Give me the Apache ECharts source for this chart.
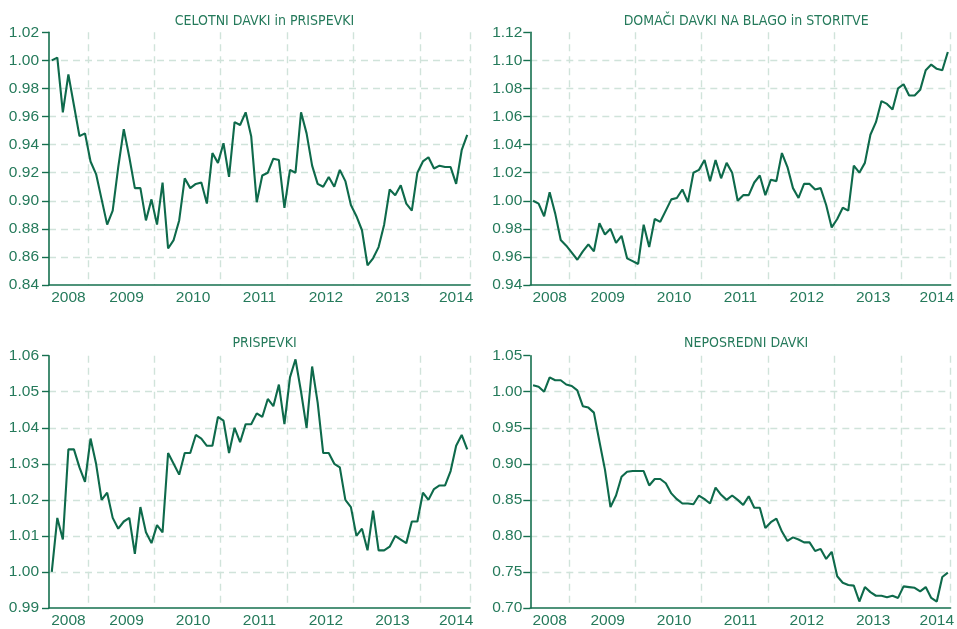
<!DOCTYPE html>
<html><head><meta charset="utf-8">
<script src="https://cdn.jsdelivr.net/npm/echarts@6/dist/echarts.min.js"></script>
<style>html,body{margin:0;padding:0;background:#fff}#c{width:957px;height:629px}</style>
</head><body><div id="c"></div>
<script>
// monthly categories, Jan 2008 .. Apr 2014 (76 months)
const months = [];
for (let y = 2008; y <= 2014; y++) for (let m = 1; m <= 12; m++) if (months.length < 76) months.push(y + '-' + String(m).padStart(2, '0'));
const yearLabels = ['2008', '2009', '2010', '2011', '2012', '2013', '2014'];
const titles = ['CELOTNI DAVKI in PRISPEVKI', 'DOMAČI DAVKI NA BLAGO in STORITVE', 'PRISPEVKI', 'NEPOSREDNI DAVKI'];

const celotni = [1.000,1.002,0.963,0.990,0.968,0.946,0.948,0.928,0.919,0.901,0.883,0.893,0.924,0.951,0.931,0.909,
  0.909,0.886,0.901,0.883,0.913,0.866,0.872,0.886,0.916,0.909,0.912,0.913,0.898,0.934,0.927,0.941,0.917,0.956,
  0.954,0.963,0.946,0.899,0.918,0.920,0.930,0.929,0.895,0.922,0.920,0.963,0.948,0.925,0.912,0.910,0.917,0.910,
  0.922,0.914,0.897,0.889,0.879,0.854,0.859,0.867,0.883,0.908,0.904,0.911,0.898,0.893,0.920,0.928,0.931,0.923,
  0.925,0.924,0.924,0.912,0.936,0.947];
const domaci = [1.000,0.998,0.989,1.006,0.991,0.972,0.968,0.963,0.958,0.964,0.969,0.964,0.984,0.976,0.980,0.970,
  0.975,0.959,0.957,0.955,0.983,0.967,0.987,0.985,0.993,1.001,1.002,1.008,0.999,1.020,1.022,1.029,1.014,1.029,
  1.016,1.027,1.020,1.000,1.004,1.004,1.013,1.018,1.004,1.015,1.014,1.034,1.024,1.009,1.002,1.012,1.012,1.008,
  1.009,0.997,0.981,0.987,0.995,0.993,1.025,1.020,1.027,1.047,1.056,1.071,1.069,1.065,1.080,1.083,1.075,1.075,
  1.079,1.093,1.097,1.094,1.093,1.106];
const prispevki = [1.000,1.015,1.009,1.034,1.034,1.029,1.025,1.037,1.030,1.020,1.022,1.015,1.012,1.014,1.015,1.005,
  1.018,1.011,1.008,1.013,1.011,1.033,1.030,1.027,1.033,1.033,1.038,1.037,1.035,1.035,1.043,1.042,1.033,1.040,
  1.036,1.041,1.041,1.044,1.043,1.048,1.046,1.052,1.041,1.054,1.059,1.050,1.040,1.057,1.047,1.033,1.033,1.030,
  1.029,1.020,1.018,1.010,1.012,1.006,1.017,1.006,1.006,1.007,1.010,1.009,1.008,1.014,1.014,1.022,1.020,1.023,
  1.024,1.024,1.028,1.035,1.038,1.034];
const neposredni = [1.009,1.007,1.000,1.020,1.016,1.016,1.010,1.008,1.002,0.980,0.978,0.971,0.931,0.892,0.840,0.856,
  0.882,0.889,0.890,0.890,0.890,0.870,0.879,0.879,0.873,0.859,0.851,0.845,0.845,0.844,0.856,0.851,0.845,0.867,
  0.857,0.850,0.856,0.850,0.843,0.855,0.839,0.839,0.811,0.819,0.824,0.806,0.793,0.798,0.795,0.791,0.791,0.779,
  0.782,0.768,0.778,0.744,0.735,0.732,0.731,0.709,0.729,0.722,0.717,0.717,0.715,0.717,0.714,0.730,0.729,0.728,
  0.723,0.729,0.714,0.709,0.743,0.749];

const seriesData = [celotni, domaci, prispevki, neposredni];
const yRanges = [[0.84, 1.02, 0.02], [0.94, 1.12, 0.02], [0.99, 1.06, 0.01], [0.70, 1.05, 0.05]];

const LINE = '#0e6a4b', AXIS = '#16704f', TEXT = '#257a5b', GRID = '#d0e3da';
const FONT = "'Liberation Sans', Arial, sans-serif";
const NARROW = "'Liberation Sans Narrow', 'DejaVu Sans Condensed', sans-serif";

const grids = [
  {left: 49, top: 32.3, width: 421, height: 252.7},
  {left: 530.3, top: 32.3, width: 421.7, height: 252.7},
  {left: 49, top: 355.7, width: 421, height: 252.6},
  {left: 530.3, top: 355.7, width: 421.7, height: 252.6}
];
const labelMargins = [10, 8, 10, 8];
// year label category index (edge ones centred on a month, inner ones on a month boundary)
const yearPos = {3: [0, false], 13: [1, true], 25: [2, true], 37: [3, true], 49: [4, true], 61: [5, true], 73: [6, false]};

const option = {
  animation: false,
  backgroundColor: '#fff',
  title: titles.map((t, i) => ({
    text: t,
    left: grids[i].left + grids[i].width / 2,
    top: i < 2 ? 9 : 331,
    textAlign: 'center',
    textStyle: {color: TEXT, fontFamily: NARROW, fontSize: 14, fontWeight: 'normal'}
  })),
  grid: grids.map(g => Object.assign({containLabel: false}, g)),
  xAxis: grids.map((g, i) => ({
    type: 'category', gridIndex: i, data: months, boundaryGap: true,
    axisLine: {lineStyle: {color: AXIS, width: 1.6}},
    axisTick: {interval: (k) => k % 3 === 1, length: 4, lineStyle: {color: AXIS, width: 1.4}},
    axisLabel: {
      interval: 0, margin: 5, color: TEXT, fontFamily: FONT, fontSize: 15.5,
      formatter: (v, k) => {
        const p = yearPos[k];
        if (!p) return '';
        return p[1] ? '{s|' + yearLabels[p[0]] + '}' : yearLabels[p[0]];
      },
      rich: {s: {padding: [0, 0, 0, 5.5], color: TEXT, fontFamily: FONT, fontSize: 15.5}}
    },
    splitLine: {show: true, interval: (k) => k % 12 === 7, lineStyle: {color: GRID, type: [7, 5], width: 1.4}}
  })),
  yAxis: yRanges.map((r, i) => ({
    type: 'value', gridIndex: i, min: r[0], max: r[1], interval: r[2],
    axisLine: {show: true, lineStyle: {color: AXIS, width: 1.6}},
    axisTick: {show: true, length: 7, lineStyle: {color: AXIS, width: 1.4}},
    axisLabel: {margin: labelMargins[i], color: TEXT, fontFamily: FONT, fontSize: 15.5,
      padding: [0, 0, 4, 0], formatter: v => v.toFixed(2)},
    splitLine: {show: true, showMaxLine: false, showMinLine: false, lineStyle: {color: GRID, type: [7, 5], width: 1.4}}
  })),
  series: seriesData.map((d, i) => ({
    type: 'line', xAxisIndex: i, yAxisIndex: i, data: d, symbol: 'none',
    lineStyle: {color: LINE, width: 2.1}, z: 5
  }))
};
echarts.init(document.getElementById('c'), null, {renderer: 'canvas'}).setOption(option);
</script></body></html>
